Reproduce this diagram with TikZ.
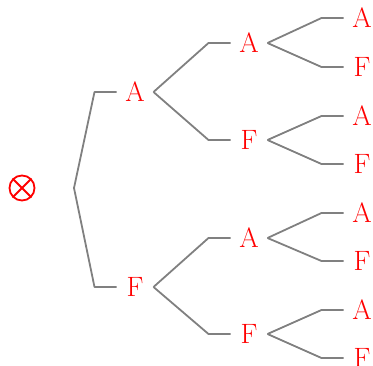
\documentclass[tikz,border=0pt]{standalone}
\usepackage{fontspec}
\begin{document}
\begin{tikzpicture}[x=1pt,y=-1pt,
  lbl/.style={text=red,font=\fontsize{28}{32}\selectfont,minimum width=37pt,inner sep=0pt,outer sep=0pt},
  br/.style={draw=gray,line width=1.8pt,line join=round}]
\useasboundingbox (0,0) rectangle (373,366);
% root
\node[draw=red,line width=1.8pt,circle,minimum size=25pt,inner sep=0pt] (root) at (22,188) {};
\draw[red,line width=1.8pt] (root.north east) -- (root.south west) (root.north west) -- (root.south east);
\coordinate (rs) at (74,188);
% level 1
\node[lbl] (a) at (135,92) {A};
\node[lbl] (f) at (135,287) {F};
% level 2
\node[lbl] (aa) at (249,43) {A};
\node[lbl] (af) at (249,140) {F};
\node[lbl] (fa) at (249,238) {A};
\node[lbl] (ff) at (249,334) {F};
% level 3
\node[lbl] (aaa) at (362,18) {A};
\node[lbl] (aaf) at (362,67) {F};
\node[lbl] (afa) at (362,116) {A};
\node[lbl] (aff) at (362,164) {F};
\node[lbl] (faa) at (362,213) {A};
\node[lbl] (faf) at (362,261) {F};
\node[lbl] (ffa) at (362,310) {A};
\node[lbl] (fff) at (362,358) {F};
% branches
\foreach \p/\c in {rs/a,rs/f}
  \draw[br] (\p) -- ([xshift=-22pt]\c.west) -- (\c.west);
\foreach \p/\c in {a/aa,a/af,f/fa,f/ff,aa/aaa,aa/aaf,af/afa,af/aff,fa/faa,fa/faf,ff/ffa,ff/fff}
  \draw[br] (\p.east) -- ([xshift=-22pt]\c.west) -- (\c.west);
\end{tikzpicture}
\end{document}
